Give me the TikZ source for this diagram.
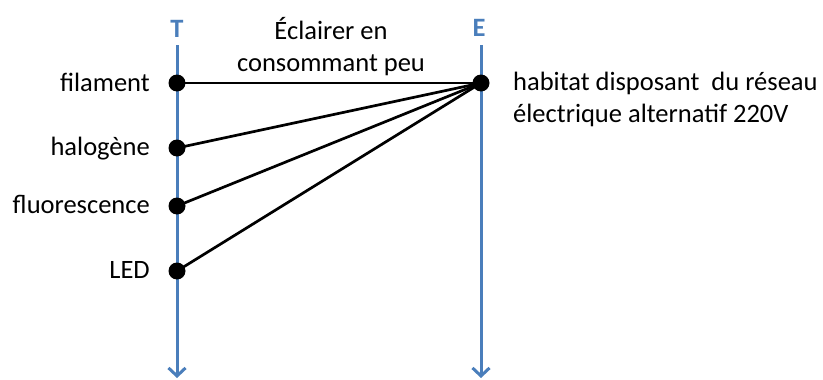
\documentclass[tikz,border=0pt]{standalone}
\usepackage{fontspec}
\setmainfont{Carlito}
\definecolor{axeBleu}{RGB}{74, 126, 187}
\usetikzlibrary{arrows.meta}

\begin{document}
\begin{tikzpicture}[
  x=1pt, y=-1pt,
  font=\fontsize{26.5}{32}\selectfont,
  axe/.style={draw=axeBleu, line width=3pt,
    -{Straight Barb[length=8pt, width=17pt, line width=3pt]}},
  titre/.style={text=axeBleu, font=\fontsize{26.5}{32}\selectfont\bfseries, anchor=base},
  point/.style={circle, fill=black, inner sep=0pt, minimum size=17pt},
  lien/.style={line width=2.7pt},
  etiquette/.style={anchor=base east, inner sep=0pt},
]
  % Cadre de l'image
  \useasboundingbox (0,0) rectangle (823,380);

  % Axes T et E
  \coordinate (Thaut) at (177,45);
  \coordinate (Tbas)  at (177,378);
  \coordinate (Ehaut) at (481,45);
  \coordinate (Ebas)  at (481,378);
  \draw[axe] (Thaut) -- (Tbas);
  \draw[axe] (Ehaut) -- (Ebas);
  \node[titre] (titreT) at (177,37) {T};
  \node[titre] (titreE) at (479,36) {E};

  % Points
  \node[point] (filament)     at (177,83)  {};
  \node[point] (halogene)     at (177,148) {};
  \node[point] (fluorescence) at (177,206) {};
  \node[point] (led)          at (177,271) {};
  \node[point] (habitat)      at (481,83)  {};

  % Liens
  \foreach \p in {filament,halogene,fluorescence,led}
    \draw[lien] (\p.center) -- (habitat.center);

  % Etiquettes de gauche
  \node[etiquette] (labFil)  at (150,91)  {filament};
  \node[etiquette] (labHal)  at (150,155) {halogène};
  \node[etiquette] (labFlu)  at (150,213) {fluorescence};
  \node[etiquette] (labLed)  at (150,278) {LED};

  % Fonction et milieu (ancre base = derniere ligne)
  \node[anchor=base, align=center, inner sep=0pt] (fonction) at (331,71)
    {Éclairer en\\consommant peu};
  \node[anchor=base west, align=left, inner sep=0pt] (milieu) at (513,122)
    {habitat disposant\ \ du réseau\\électrique alternatif 220V};

\end{tikzpicture}
\end{document}
